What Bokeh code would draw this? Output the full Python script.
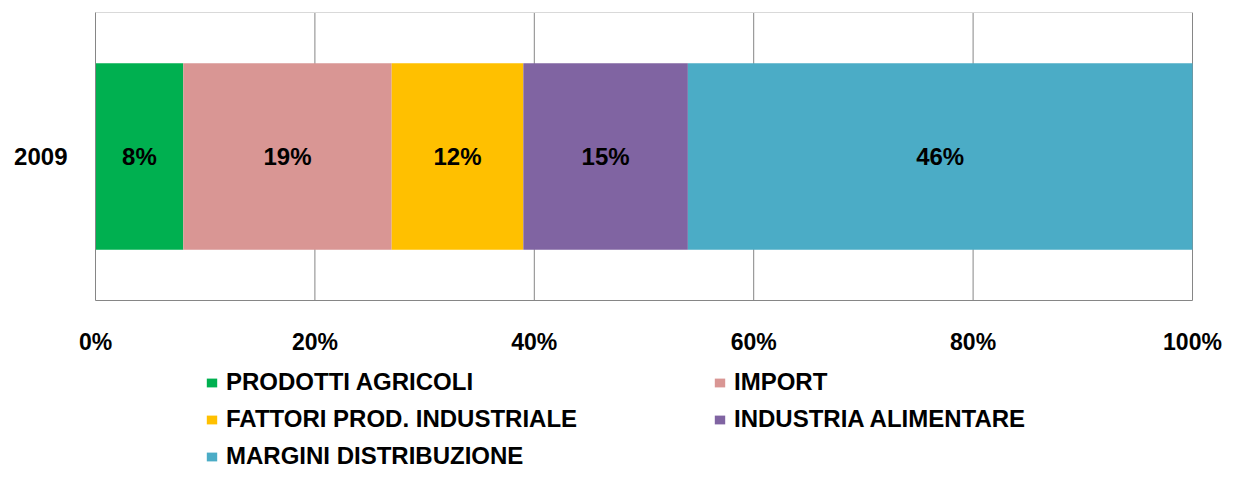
from bokeh.plotting import figure
from bokeh.models import (Range1d, FixedTicker, PrintfTickFormatter, LinearAxis,
                          Legend, LegendItem, ColumnDataSource)
from bokeh.embed import file_html
from bokeh.resources import INLINE
from bokeh.core.properties import value

categories = ["2009"]
series = ["PRODOTTI AGRICOLI", "IMPORT", "FATTORI PROD. INDUSTRIALE",
          "INDUSTRIA ALIMENTARE", "MARGINI DISTRIBUZIONE"]
values = [8, 19, 12, 15, 46]
colors = ["#00B050", "#D99694", "#FFC000", "#8064A2", "#4BACC6"]
x_ticks = [0, 20, 40, 60, 80, 100]

FONT = "Liberation Sans"
CAT_Y = 0.5  # category band centre (band spans 0..1)

W, H = 1223, 470
PX_LEFT, PX_RIGHT = 95, 1192   # plot area in pixels
PX_TOP, PX_BOT = 12, 300
sx = (PX_RIGHT - PX_LEFT) / 100.0
sy = (PX_BOT - PX_TOP) / 1.0

p = figure(width=W, height=H, output_backend="svg", toolbar_location=None,
           x_range=Range1d(-PX_LEFT / sx, 100 + (W - PX_RIGHT) / sx),
           y_range=Range1d(-(H - PX_BOT) / sy, 1 + PX_TOP / sy),
           x_axis_location=None, y_axis_location=None,
           min_border_left=0, min_border_right=0, min_border_top=0,
           min_border_bottom=0)
p.outline_line_color = None
p.background_fill_color = "white"
p.border_fill_color = "white"
p.xgrid.visible = False
p.ygrid.visible = False

# vertical grid lines limited to the plot band, and light top border
gsrc = ColumnDataSource(dict(x=x_ticks[1:], y0=[0] * 5, y1=[1] * 5))
p.segment(x0="x", x1="x", y0="y0", y1="y1", source=gsrc, line_color="#868686",
          line_width=1, level="underlay")
p.segment(x0=[x_ticks[0]], x1=[x_ticks[-1]], y0=[1], y1=[1], line_color="#D9D9D9",
          line_width=1, level="underlay")

renderers = []
left = 0
for name, v, c in zip(series, values, colors):
    src = ColumnDataSource(dict(y=[CAT_Y], left=[left], right=[left + v],
                                mid=[left + v / 2], lab=[f"{v}%"]))
    r = p.hbar(y="y", left="left", right="right", height=0.648, source=src,
               fill_color=c, line_color=None)
    p.text(x="mid", y="y", text="lab", source=src, text_align="center",
           text_baseline="middle", text_font=value(FONT), text_font_style="bold",
           text_font_size="24px", text_color="black")
    renderers.append(r)
    left += v

# axes
xaxis = LinearAxis(fixed_location=0, ticker=FixedTicker(ticks=x_ticks),
                   formatter=PrintfTickFormatter(format="%d%%"),
                   bounds=(x_ticks[0], x_ticks[-1]))
yaxis = LinearAxis(fixed_location=0, ticker=FixedTicker(ticks=[CAT_Y]), bounds=(0, 1),
                   major_label_overrides={CAT_Y: categories[0]})
for ax in (xaxis, yaxis):
    ax.axis_line_color = "#868686"
    ax.major_tick_line_color = None
    ax.minor_tick_line_color = None
    ax.major_label_text_font = FONT
    ax.major_label_text_font_style = "bold"
    ax.major_label_text_font_size = "23px"
    ax.major_label_text_color = "black"
yaxis.major_label_text_font_size = "24px"
xaxis.major_label_standoff = 22
yaxis.major_label_standoff = 22
p.add_layout(xaxis, "below")
p.add_layout(yaxis, "left")

items = [LegendItem(label=s, renderers=[r]) for s, r in zip(series, renderers)]

lg = Legend(items=items, location=(205, 0), orientation="horizontal", ncols=2)
lg.padding = 0
lg.margin = 0
lg.border_line_color = None
lg.background_fill_alpha = 0
lg.glyph_width = 13
lg.glyph_height = 11
lg.label_height = 26
lg.label_width = 478
lg.spacing = 9
lg.label_standoff = 8
lg.label_text_font = FONT
lg.label_text_font_style = "bold"
lg.label_text_font_size = "24px"
lg.label_text_color = "black"
lg.label_text_baseline = "middle"
p.add_layout(lg, "center")

open("out.html", "w").write(file_html(p, INLINE))
